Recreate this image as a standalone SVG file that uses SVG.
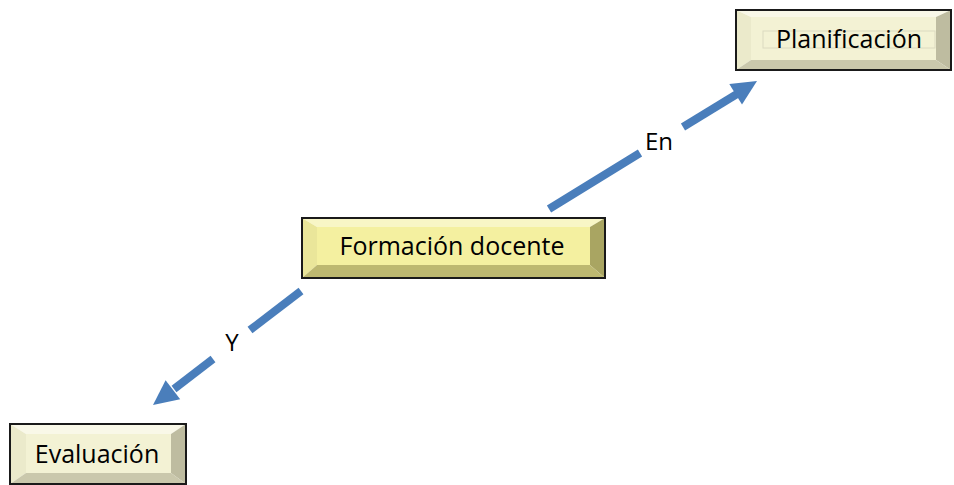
<svg xmlns="http://www.w3.org/2000/svg" width="954" height="485" viewBox="0 0 954 485">
  <defs>
    <style>
      text { font-family: "Open Sans", "Noto Sans", "Liberation Sans", sans-serif; fill: #000; }
      .lbl { font-size: 25px; text-anchor: middle; }
      .elbl { font-size: 24px; text-anchor: middle; }
      .border { fill: none; stroke: #1a1a1a; stroke-width: 2; }
      .y-face { fill: #F4F0A0; }
      .y-top { fill: #F8F6C6; }
      .y-left { fill: #EAE69A; }
      .y-right { fill: #A9A562; }
      .y-bottom { fill: #BDB870; }
      .c-face { fill: #F3F2D4; }
      .c-top { fill: #F9F8E8; }
      .c-left { fill: #EBEACB; }
      .c-right { fill: #BEBCA0; }
      .c-bottom { fill: #CAC8AC; }
      .conn { stroke: #4A7EBB; stroke-width: 8; fill: none; }
      .head { fill: #4A7EBB; }
    </style>
  </defs>

  <g id="connectors">
    <line class="conn" x1="549" y1="209" x2="640" y2="153"/>
    <line class="conn" x1="683" y1="127" x2="737" y2="94"/>
    <polygon class="head" points="757,81 742,104.4 729.3,84"/>
    <line class="conn" x1="301" y1="291" x2="250" y2="330"/>
    <line class="conn" x1="213" y1="359" x2="174" y2="389"/>
    <polygon class="head" points="153,405 165.6,380.2 180.2,399.2"/>
  </g>

  <g id="label-en"><text class="elbl" x="659" y="150">En</text></g>
  <g id="label-y"><text class="elbl" x="232" y="351">Y</text></g>

  <g id="node-formacion">
    <polygon class="y-top" points="302,218 605,218 590,227 317,227"/>
    <polygon class="y-left" points="302,218 317,227 317,265 302,278"/>
    <polygon class="y-right" points="605,218 605,278 590,265 590,227"/>
    <polygon class="y-bottom" points="302,278 317,265 590,265 605,278"/>
    <rect class="y-face" x="317" y="227" width="273" height="38"/>
    <rect class="border" x="302" y="218" width="303" height="60"/>
    <text class="lbl" x="452" y="255">Formación docente</text>
  </g>

  <g id="node-planificacion">
    <polygon class="c-top" points="736,10 951,10 936,17 751,17"/>
    <polygon class="c-left" points="736,10 751,17 751,60 736,70"/>
    <polygon class="c-right" points="951,10 951,70 936,60 936,17"/>
    <polygon class="c-bottom" points="736,70 751,60 936,60 951,70"/>
    <rect class="c-face" x="751" y="17" width="185" height="43"/>
    <rect x="763" y="31" width="172" height="17" fill="none" stroke="#DCDAC0" stroke-width="1"/>
    <rect class="border" x="736" y="10" width="215" height="60"/>
    <text class="lbl" x="849" y="48">Planificación</text>
  </g>

  <g id="node-evaluacion">
    <polygon class="c-top" points="10,424 186,424 171,434 26,434"/>
    <polygon class="c-left" points="10,424 26,434 26,473 10,484"/>
    <polygon class="c-right" points="186,424 186,484 171,473 171,434"/>
    <polygon class="c-bottom" points="10,484 26,473 171,473 186,484"/>
    <rect class="c-face" x="26" y="434" width="145" height="39"/>
    <rect class="border" x="10" y="424" width="176" height="60"/>
    <text class="lbl" x="97" y="463">Evaluación</text>
  </g>
</svg>
